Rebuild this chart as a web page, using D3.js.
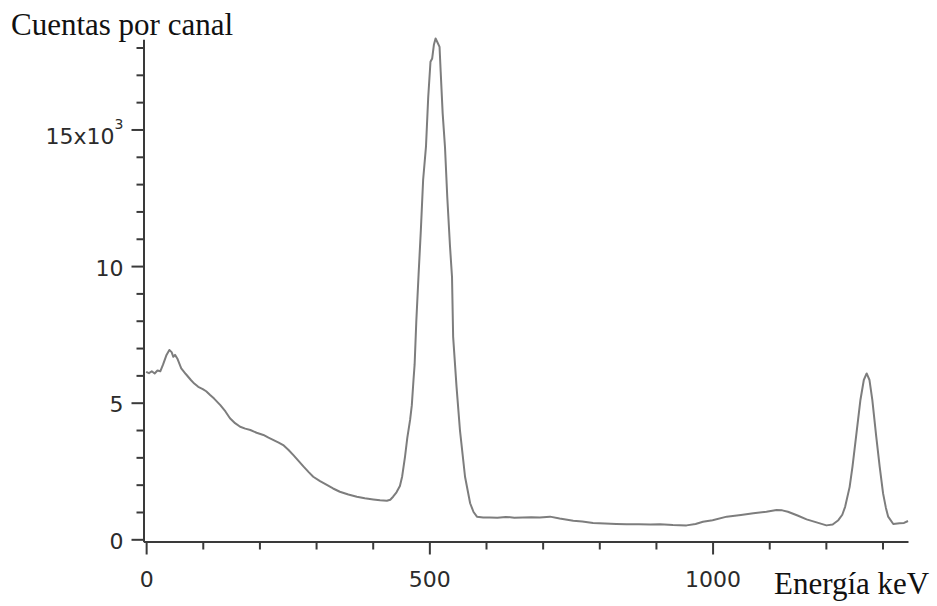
<!DOCTYPE html>
<html>
<head>
<meta charset="utf-8">
<script src="https://cdn.jsdelivr.net/npm/d3@7"></script>
<style>
    body { margin: 0; background: #fff; }
    .tickLabel { font-family: "DejaVu Sans", sans-serif; font-size: 22px; fill: #2b2b2b; }
    .axisTitle { font-family: "Liberation Serif", "Times New Roman", serif; font-size: 31px; fill: #111; }
</style>
</head>
<body>
<script>
(function(){

    //spectrum: energy in keV, counts per channel
    var energy = [0, 5, 10, 15, 20, 25, 30, 36, 41, 45, 48, 51, 55, 62, 70, 79, 85, 92, 100, 106,
        113, 120, 131, 140, 148, 157, 166, 175, 184, 195, 207, 216, 225, 234, 242, 251, 260, 269, 278, 287,
        295, 307, 319, 330, 342, 357, 372, 386, 401, 413, 425, 431, 436, 442, 448, 452, 457, 461, 466, 469,
        472, 474, 477, 481, 485, 489, 494, 498, 502, 505, 508, 511, 514, 518, 520, 523.5, 527.6, 531.6, 536.5, 540,
        542, 548, 554, 563, 572, 578, 584, 595, 607, 620, 635, 650, 665, 680, 695, 713, 730, 754, 770, 789,
        810, 830, 848, 870, 890, 907, 930, 954, 970, 983, 1000, 1025, 1050, 1072, 1095, 1113, 1123, 1133, 1150, 1166,
        1185, 1201, 1212, 1222, 1229, 1234, 1242, 1247, 1254, 1261, 1267, 1272, 1277, 1282, 1289, 1295, 1301, 1306, 1310, 1319,
        1330, 1338, 1345];
    var counts = [6130, 6080, 6150, 6070, 6180, 6150, 6400, 6750, 6930, 6850, 6680, 6750, 6620, 6260, 6050, 5830, 5700, 5580, 5500, 5420,
        5280, 5150, 4910, 4680, 4430, 4250, 4120, 4050, 4000, 3900, 3820, 3720, 3630, 3540, 3450, 3280, 3080, 2870, 2660, 2460,
        2290, 2130, 1990, 1860, 1740, 1640, 1560, 1500, 1460, 1430, 1410, 1450, 1560, 1720, 1950, 2300, 3020, 3700, 4370, 4900,
        5830, 6400, 8000, 9700, 11320, 13150, 14360, 16190, 17480, 17600, 18100, 18330, 18200, 18020, 17110, 15590, 14360, 12540, 10710, 9600,
        7410, 5580, 4000, 2290, 1320, 1000, 830, 800, 800, 790, 820, 790, 800, 810, 800, 830, 760, 680, 650, 600,
        580, 560, 550, 550, 540, 550, 520, 510, 560, 640, 700, 830, 890, 950, 1010, 1070, 1060, 1010, 870, 730,
        610, 510, 540, 700, 900, 1190, 1920, 2660, 3880, 5100, 5830, 6070, 5830, 5100, 3750, 2660, 1680, 1150, 830, 560,
        590, 600, 670];

    //tick values
    var xMajor = [0, 500, 1000];
    var xMinor = [100, 200, 300, 400, 600, 700, 800, 900, 1100, 1200, 1300];
    var yMajor = [0, 5000, 10000, 15000];
    var yMinor = [1000, 2000, 3000, 4000, 6000, 7000, 8000, 9000, 11000, 12000, 13000, 14000, 16000, 17000, 18000];
    var yLabels = ["0", "5", "10", "15x10"];

    window.onload = setChart();

    function setChart(){
        var width = 937,
            height = 606;

        var svg = d3.select("body")
            .append("svg")
            .attr("width", width)
            .attr("height", height);

        //scales fitted to the axis frame of the picture
        var x = d3.scaleLinear()
            .domain([-5, 1345])
            .range([143.3, 908]);
        var y = d3.scaleLinear()
            .domain([-80, 18300])
            .range([541.5, 39.3]);

        var axisColor = "#3a3a3a";

        //x axis: minor ticks then major ticks with labels
        var xMinorAxis = svg.append("g")
            .attr("transform", "translate(0,541.5)")
            .call(d3.axisBottom(x).tickValues(xMinor).tickSize(8).tickSizeOuter(0).tickFormat(""));
        var xMajorAxis = svg.append("g")
            .attr("transform", "translate(0,541.5)")
            .call(d3.axisBottom(x).tickValues(xMajor).tickSize(13).tickSizeOuter(0).tickFormat(d3.format("d")));
        xMajorAxis.select(".domain").remove();
        xMajorAxis.selectAll("text")
            .attr("class", "tickLabel")
            .attr("y", 45.5)
            .attr("dy", null)
            .attr("fill", null);

        //y axis
        var yMinorAxis = svg.append("g")
            .attr("transform", "translate(143.5,0)")
            .call(d3.axisLeft(y).tickValues(yMinor).tickSize(7).tickSizeOuter(0).tickFormat(""));
        var yMajorAxis = svg.append("g")
            .attr("transform", "translate(143.5,0)")
            .call(d3.axisLeft(y).tickValues(yMajor).tickSize(12).tickSizeOuter(0).tickFormat(function(d, i){
                return yLabels[i];
            }));
        yMajorAxis.select(".domain").remove();
        yMajorAxis.selectAll("text")
            .attr("class", "tickLabel")
            .attr("x", -20)
            .attr("dy", "9")
            .attr("fill", null);

        //exponent on the top label
        yMajorAxis.selectAll("text")
            .filter(function(d){ return d == 15000; })
            .attr("dy", "14.5")
            .append("tspan")
            .attr("dy", "-15")
            .style("font-size", "14px")
            .text("3");

        svg.selectAll(".domain, .tick line")
            .attr("stroke", axisColor)
            .attr("stroke-width", 2);

        //spectrum line
        var line = d3.line()
            .x(function(d, i){ return x(energy[i]); })
            .y(function(d){ return y(d); });

        svg.append("path")
            .datum(counts)
            .attr("d", line)
            .attr("fill", "none")
            .attr("stroke", "#7d7d7d")
            .attr("stroke-width", 2)
            .attr("stroke-linejoin", "round");

        //axis titles
        svg.append("text")
            .attr("class", "axisTitle")
            .attr("x", 11)
            .attr("y", 35)
            .text("Cuentas por canal");

        svg.append("text")
            .attr("class", "axisTitle")
            .attr("x", 774)
            .attr("y", 594)
            .text("Energía keV");
    };

})();
</script>
</body>
</html>
